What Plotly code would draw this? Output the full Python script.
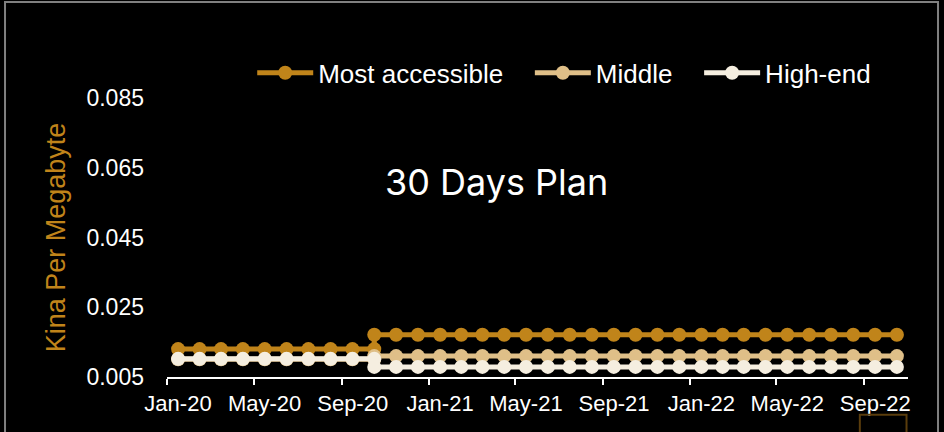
import plotly.graph_objects as go

# monthly observations, Oct-20 appears twice (old plan / new plan)
months = [
    "2020-01-01", "2020-02-01", "2020-03-01", "2020-04-01", "2020-05-01", "2020-06-01",
    "2020-07-01", "2020-08-01", "2020-09-01", "2020-10-01", "2020-10-01", "2020-11-01",
    "2020-12-01", "2021-01-01", "2021-02-01", "2021-03-01", "2021-04-01", "2021-05-01",
    "2021-06-01", "2021-07-01", "2021-08-01", "2021-09-01", "2021-10-01", "2021-11-01",
    "2021-12-01", "2022-01-01", "2022-02-01", "2022-03-01", "2022-04-01", "2022-05-01",
    "2022-06-01", "2022-07-01", "2022-08-01", "2022-09-01", "2022-10-01",
]

most_accessible = [
    0.0130, 0.0130, 0.0130, 0.0130, 0.0130, 0.0130, 0.0130, 0.0130, 0.0130, 0.0130,
    0.0171, 0.0171, 0.0171, 0.0171, 0.0171, 0.0171, 0.0171, 0.0171, 0.0171, 0.0171,
    0.0171, 0.0171, 0.0171, 0.0171, 0.0171, 0.0171, 0.0171, 0.0171, 0.0171, 0.0171,
    0.0171, 0.0171, 0.0171, 0.0171, 0.0171,
]
middle = [
    0.0101, 0.0101, 0.0101, 0.0101, 0.0101, 0.0101, 0.0101, 0.0101, 0.0101, 0.0101,
    0.0110, 0.0110, 0.0110, 0.0110, 0.0110, 0.0110, 0.0110, 0.0110, 0.0110, 0.0110,
    0.0110, 0.0110, 0.0110, 0.0110, 0.0110, 0.0110, 0.0110, 0.0110, 0.0110, 0.0110,
    0.0110, 0.0110, 0.0110, 0.0110, 0.0110,
]
high_end = [
    0.0102, 0.0102, 0.0102, 0.0102, 0.0102, 0.0102, 0.0102, 0.0102, 0.0102, 0.0102,
    0.0079, 0.0079, 0.0079, 0.0079, 0.0079, 0.0079, 0.0079, 0.0079, 0.0079, 0.0079,
    0.0079, 0.0079, 0.0079, 0.0079, 0.0079, 0.0079, 0.0079, 0.0079, 0.0079, 0.0079,
    0.0079, 0.0079, 0.0079, 0.0079, 0.0079,
]

series = [
    ("Most accessible", most_accessible, "#C0841A"),
    ("Middle", middle, "#DFBF88"),
    ("High-end", high_end, "#F5EEE0"),
]

fig = go.Figure()

for name, vals, col in series:
    fig.add_trace(go.Scatter(
        x=months,
        y=vals,
        # nbsp padding widens the gap between legend entries
        name=name + "\u00a0\u00a0\u00a0",
        mode="lines+markers",
        xperiod="M1",
        xperiodalignment="middle",
        line=dict(color=col, width=5),
        marker=dict(color=col, size=14),
    ))

# title inside the plot
fig.add_annotation(
    text="30 Days Plan", xref="paper", yref="paper",
    x=0.445, y=0.70, xanchor="center", yanchor="middle", showarrow=False,
    font=dict(family="Inter", size=36, color="white"),
)

# outer frame + small logo box
fig.add_shape(type="rect", xref="paper", yref="paper",
              x0=-0.2186, x1=1.0405, y0=-0.4, y1=1.344,
              line=dict(color="#808080", width=2))
fig.add_shape(type="rect", xref="paper", yref="paper",
              x0=0.935, x1=0.998, y0=-0.135, y1=-0.3,
              line=dict(color="#5a3d0c", width=2))

fig.update_layout(
    width=944,
    height=432,
    paper_bgcolor="black",
    plot_bgcolor="black",
    margin=dict(l=167, r=36, t=98, b=55),
    font=dict(family="Liberation Sans", color="white"),
    legend=dict(
        orientation="h", x=0.115, y=1.09, xanchor="left", yanchor="middle",
        font=dict(size=26, color="white"), bgcolor="rgba(0,0,0,0)",
        traceorder="normal", itemwidth=56,
    ),
    xaxis=dict(
        type="date",
        range=["2020-01-01", "2022-11-01"],
        tick0="2020-01-01",
        dtick="M4",
        tickformat="%b-%y",
        ticks="outside",
        ticklen=6,
        tickwidth=1.5,
        tickcolor="white",
        ticklabelshift=11,
        showline=True,
        linecolor="white",
        linewidth=1.5,
        showgrid=False,
        zeroline=False,
        tickfont=dict(size=22, color="white"),
    ),
    yaxis=dict(
        range=[0.005, 0.085],
        tick0=0.005,
        dtick=0.02,
        tickformat=".3f",
        showgrid=False,
        zeroline=False,
        showline=False,
        ticks="",
        ticklabelstandoff=22,
        tickfont=dict(size=23, color="white"),
        title=dict(text="Kina Per Megabyte", standoff=12,
                   font=dict(size=27, color="#C0841A")),
    ),
)

fig.write_html("out.html", config={"displayModeBar": False},
               post_script="document.body.style.margin='0px';")
